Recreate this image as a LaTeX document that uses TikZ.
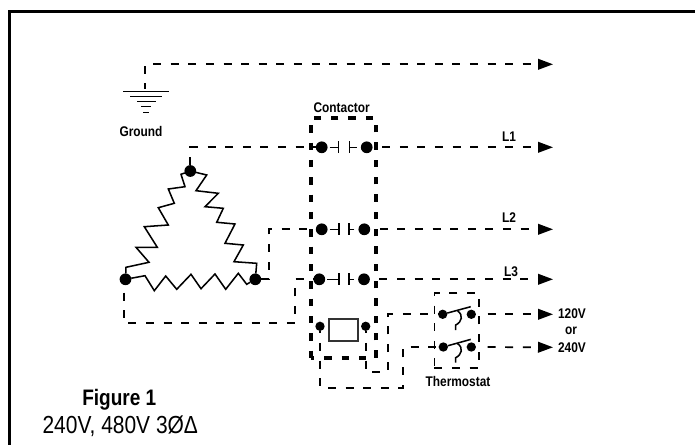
\documentclass[tikz,border=0pt]{standalone}
\usepackage{fontspec}
\setmainfont{Liberation Sans}[FakeStretch=0.85]
\usetikzlibrary{arrows.meta}
\begin{document}
\begin{tikzpicture}[x=0.75pt,y=-0.75pt,>={Triangle[length=11.25pt,width=8pt]},line width=1.15pt,
  main node/.style={circle,fill=black,inner sep=0pt,outer sep=0pt,minimum size=8.8pt},
  small node/.style={circle,fill=black,inner sep=0pt,outer sep=0pt,minimum size=7pt},
  plate/.style={rectangle,fill=black,inner sep=0pt,outer sep=0pt,minimum width=1.15pt,minimum height=9pt},
  wire/.style={dash pattern=on 6pt off 7.2pt,line width=1.3pt},
  line out/.style={wire,->,dash phase=6pt},
  tag/.style={font=\bfseries\fontsize{10.5}{11}\selectfont,inner sep=0pt}]

  \useasboundingbox (0,0) rectangle (695,445);
  \draw[line width=2.4pt] (695,11.5) -- (9.5,11.5) -- (9.5,445);

  % windings
  \node[main node] (A) at (190.3,171) {};
  \node[main node] (B) at (125.5,279.3) {};
  \node[main node] (C) at (255.3,279.3) {};
  \draw (A) -- (181,174.3) -- (185,186.7) -- (168.3,189) -- (174.3,203.3) -- (158.3,207.7) -- (168.3,225)
    -- (144.3,226.7) -- (157.3,247.3) -- (136,247.3) -- (149,262.3) -- (126,267.3) -- (B);
  \draw (A) -- (206.7,175) -- (196,190.7) -- (218.3,193.3) -- (205,206.7) -- (223.3,208.3) -- (216.7,222.3)
    -- (235,224) -- (225,243.3) -- (243.3,245) -- (234,261.7) -- (256.7,263.3) -- (C);
  \draw (B) -- (145,275.7) -- (154.3,290.7) -- (165.7,276) -- (176.7,289.3) -- (191,274.3) -- (201,288.7)
    -- (215,274) -- (225.7,289.3) -- (238.3,273.3) -- (246.7,284.3) -- (C);

  % contactor
  \node[draw,line width=2.4pt,dash pattern=on 5.6pt off 7.4pt,dash phase=3pt,inner sep=0pt,outer sep=0pt,minimum width=48.75pt,minimum height=180pt] (K) at (343.5,238) {};
  \node[tag] (Klabel) at (341.7,107.5) {Contactor};
  \node[main node] (L1a) at (321.7,147.3) {};
  \node[main node] (L1b) at (366.7,147.3) {};
  \node[main node] (L2a) at (321.7,229.3) {};
  \node[main node] (L2b) at (364.3,229.3) {};
  \node[main node] (L3a) at (319.3,279.3) {};
  \node[main node] (L3b) at (364,279.3) {};
  \node[plate] (L1p) at (338.5,147.3) {};
  \node[plate] (L1q) at (349.3,147.3) {};
  \node[plate] (L2p) at (339,229.3) {};
  \node[plate] (L2q) at (349,229.3) {};
  \node[plate] (L3p) at (339,279.3) {};
  \node[plate] (L3q) at (349,279.3) {};
  \draw[shorten <=1.5pt] (L1a) -- (L1p);
  \draw[shorten <=3pt] (L1b) -- (L1q);
  \draw[shorten <=1.5pt] (L2a) -- (L2p);
  \draw[shorten <=3pt] (L2b) -- (L2q);
  \draw[shorten <=1.5pt] (L3a) -- (L3p);
  \draw[shorten <=3pt] (L3b) -- (L3q);
  \node[draw=black!80,line width=1.3pt,inner sep=0pt,outer sep=0pt,minimum width=22.2pt,minimum height=16.5pt] (coil) at (343.5,330) {};
  \node[small node] (coilL) at (320,326.3) {};
  \node[small node] (coilR) at (365.7,326.3) {};

  % thermostat
  \node[draw,wire,inner sep=0pt,outer sep=0pt,minimum width=33.5pt,minimum height=55.8pt] (T) at (456.7,330.5) {};
  \node[tag] (Tlabel) at (458,381.7) {Thermostat};
  \node[small node] (T1a) at (442.7,314.3) {};
  \node[small node] (T1b) at (471.3,314.3) {};
  \node[small node] (T2a) at (443.3,347) {};
  \node[small node] (T2b) at (471.3,347) {};
  \draw (T1a) -- (470.7,306.7);
  \draw (T2a) -- (470.7,339.4);
  \draw (457.7,311) .. controls (463.5,315) and (462,322) .. (455.7,325) -- (455.7,330);
  \draw (457.7,343.7) .. controls (463.5,347.7) and (462,354.7) .. (455.7,357.7) -- (455.7,362.7);

  % ground
  \coordinate (gnd) at (145,89);
  \draw (123,91.7) -- (168.5,91.7);
  \draw (130,96.7) -- (162,96.7);
  \draw (137,101.7) -- (156,101.7);
  \draw (141,106.7) -- (151,106.7);
  \draw (143,112.7) -- (149,112.7);
  \node[tag] (Glabel) at (141,131) {Ground};

  % line ends
  \coordinate (outG) at (553,64.3);
  \coordinate (outL1) at (553,147.3);
  \coordinate (outL2) at (553,229.3);
  \coordinate (outL3) at (553,279.3);
  \coordinate (out120) at (553,314.3);
  \coordinate (out240) at (553,347.3);

  \draw[wire,->,dash phase=1.8pt] (gnd) -- (145,64.3) -- (outG);
  \draw[wire] (A) -- (190.3,147.3) -- (L1a);
  \draw[line out] (L1b) -- (outL1);
  \draw[wire] (C) -- (269,279.3) -- (269,229.3) -- (L2a);
  \draw[line out] (L2b) -- (outL2);
  \draw[wire] (B) -- (124,279.3) -- (124,323.3) -- (295,323.3) -- (295,279.3) -- (L3a);
  \draw[line out] (L3b) -- (outL3);
  \draw[wire,dash phase=4.2pt] (coilL) -- (320,387.7) -- (403.3,387.7) -- (403.3,347) -- (T2a);
  \draw[wire,dash phase=4.2pt] (coilR) -- (365.7,371.7) -- (387.7,371.7) -- (387.7,314.3) -- (T1a);
  \draw[line out,shorten <=1.5pt] (T1b) -- (out120);
  \draw[line out,shorten <=1.5pt] (T2b) -- (out240);

  \node[tag] (L1) at (509,136.7) {L1};
  \node[tag] (L2) at (509,217.3) {L2};
  \node[tag] (L3) at (511,271.7) {L3};
  \node[tag] (V120) at (572,313.5) {120V};
  \node[tag] (Vor) at (571,331) {or};
  \node[tag] (V240) at (572,347.7) {240V};

  \node[font=\bfseries\fontsize{16.8}{18}\selectfont,inner sep=0pt] (fig) at (119.3,399.3) {Figure 1};
  \node[font=\fontsize{18.5}{20}\selectfont,inner sep=0pt] (rating) at (120.3,426.7) {240V, 480V 3ØΔ};
\end{tikzpicture}
\end{document}
